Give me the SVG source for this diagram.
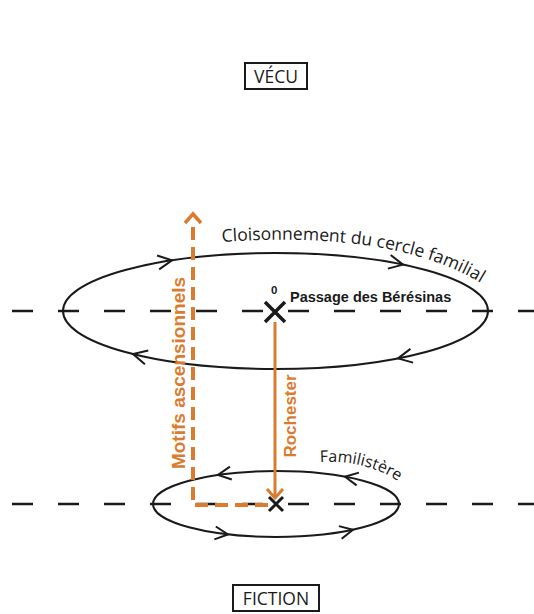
<svg xmlns="http://www.w3.org/2000/svg" xmlns:xlink="http://www.w3.org/1999/xlink" width="534" height="614" viewBox="0 0 534 614">
  <style>
    .axis { fill: none; stroke: #1a1a1a; stroke-width: 2.5; stroke-dasharray: 21 25; }
    .loop { fill: none; stroke: #1a1a1a; stroke-width: 2; }
    .chev { fill: none; stroke: #1a1a1a; stroke-width: 2; stroke-linejoin: miter; }
    .cross { stroke: #1a1a1a; stroke-linecap: butt; }
    .orange { fill: none; stroke: #d97c2f; }
    .box { fill: #ffffff; stroke: #1a1a1a; stroke-width: 2; }
    .label { font-family: "Open Sans", "Liberation Sans", sans-serif; fill: #1a1a1a; }
    .bold { font-family: "Liberation Sans", Arial, sans-serif; font-weight: bold; }
  </style>
  <defs>
    <path id="chev" class="chev" d="M -14 -7 L 0 0 L -14 7"/>
    <path id="chevS" class="chev" d="M -13 -6.5 L 0 0 L -13 6.5"/>
    <path id="arcTop" d="M 222 242 C 330 234, 432 246, 494 292"/>
    <path id="arcLow" d="M 320 462 C 352 460, 384 468, 410 490"/>
  </defs>

  <rect width="534" height="614" fill="#ffffff"/>

  <!-- horizontal reference axes -->
  <g id="axes">
    <path class="axis" d="M 12 311 H 534"/>
    <path class="axis" d="M 12 504 H 534"/>
  </g>

  <!-- upper loop: family circle -->
  <g id="loop-upper">
    <ellipse class="loop" cx="275.5" cy="311" rx="212.5" ry="58"/>
    <use xlink:href="#chev" transform="translate(172 260.3) rotate(-8.6)"/>
    <use xlink:href="#chev" transform="translate(403 264.6) rotate(11.6)"/>
    <use xlink:href="#chev" transform="translate(398 358.4) rotate(169.1)"/>
    <use xlink:href="#chev" transform="translate(133 354) rotate(193.9)"/>
    <text class="label" font-size="17.5"><textPath xlink:href="#arcTop">Cloisonnement du cercle familial</textPath></text>
  </g>

  <!-- lower loop: Familistère -->
  <g id="loop-lower">
    <ellipse class="loop" cx="276" cy="504" rx="123" ry="33"/>
    <use xlink:href="#chevS" transform="translate(218 474.9) rotate(171.8)"/>
    <use xlink:href="#chevS" transform="translate(345 476.7) rotate(-169.7)"/>
    <use xlink:href="#chevS" transform="translate(228 534.4) rotate(6.5)"/>
    <use xlink:href="#chevS" transform="translate(353 529.7) rotate(-12.2)"/>
    <text class="label" font-size="16"><textPath xlink:href="#arcLow">Familistère</textPath></text>
  </g>

  <!-- orange connectors -->
  <g id="connectors">
    <path class="orange" stroke-width="4" stroke-dasharray="13 7" d="M 268 505 H 193 V 220"/>
    <path class="orange" stroke-width="3.5" d="M 185 223 L 193 214 L 201 223"/>
    <path class="orange" stroke-width="3" d="M 275 322 V 497"/>
    <path class="orange" stroke-width="3" d="M 267 489 L 275 498 L 283 489"/>
  </g>

  <!-- origin point -->
  <g id="origin">
    <path class="cross" stroke-width="3.5" d="M 265 302 L 285 322 M 285 302 L 265 322"/>
    <text class="bold" x="271" y="294" font-size="11.5" fill="#1a1a1a">0</text>
    <text class="bold" x="290" y="302" font-size="14.5" fill="#1a1a1a">Passage des Bérésinas</text>
  </g>

  <!-- lower point -->
  <g id="point-lower">
    <path class="cross" stroke-width="3" d="M 269 497 L 283 511 M 283 497 L 269 511"/>
  </g>

  <!-- orange labels -->
  <g id="label-motifs">
    <text class="bold" font-size="19" fill="#d97c2f" text-anchor="middle" transform="translate(185 373) rotate(-90)">Motifs ascensionnels</text>
  </g>
  <g id="label-rochester">
    <text class="bold" font-size="17" fill="#d97c2f" text-anchor="middle" transform="translate(296 416) rotate(-90)">Rochester</text>
  </g>

  <!-- pole boxes -->
  <g id="vecu">
    <rect class="box" x="245" y="63" width="62" height="26"/>
    <text class="label" x="276" y="83" font-size="17.5" text-anchor="middle">VÉCU</text>
  </g>
  <g id="fiction">
    <rect class="box" x="233" y="585" width="86" height="26"/>
    <text class="label" x="276" y="604.5" font-size="17.5" text-anchor="middle">FICTION</text>
  </g>
</svg>
